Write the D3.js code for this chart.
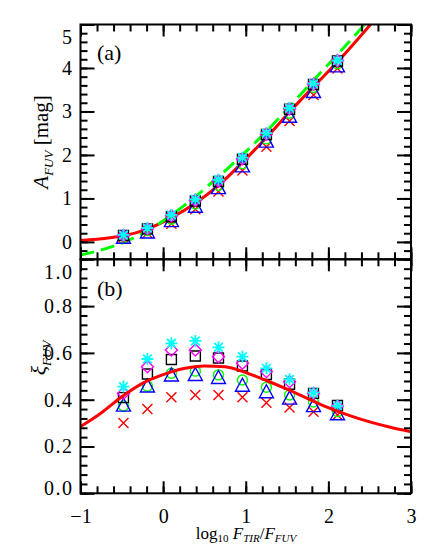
<!DOCTYPE html>
<html>
<head>
<meta charset="utf-8">
<script src="https://cdn.jsdelivr.net/npm/d3@7"></script>
<style>
body { margin: 0; background: #fff; }
text { font-family: "Liberation Serif", serif; }
</style>
</head>
<body>
<script>
// bin centres, log10 F_TIR/F_FUV
var binX = [-0.48, -0.19, 0.10, 0.39, 0.67, 0.96, 1.25, 1.53, 1.82, 2.11];

// panel (a): A_FUV for each model
var aCross    = [0.10, 0.20, 0.42, 0.75, 1.16, 1.64, 2.19, 2.78, 3.38, 3.99];
var aCircle   = [0.13, 0.26, 0.52, 0.87, 1.30, 1.80, 2.37, 2.96, 3.55, 4.10];
var aTriangle = [0.12, 0.24, 0.50, 0.83, 1.26, 1.76, 2.33, 2.90, 3.47, 4.06];
var aSquare   = [0.15, 0.30, 0.58, 0.94, 1.39, 1.90, 2.47, 3.05, 3.62, 4.16];
var aDiamond  = [0.15, 0.30, 0.60, 0.96, 1.40, 1.91, 2.48, 3.06, 3.63, 4.17];
var aStar     = [0.16, 0.32, 0.62, 0.98, 1.43, 1.94, 2.50, 3.08, 3.64, 4.17];

// panel (b): xi_FUV for each model
var xiCross    = [0.300, 0.360, 0.410, 0.420, 0.420, 0.410, 0.387, 0.367, 0.349, 0.335];
var xiCircle   = [0.373, 0.458, 0.513, 0.522, 0.506, 0.484, 0.453, 0.420, 0.390, 0.349];
var xiTriangle = [0.379, 0.461, 0.508, 0.510, 0.497, 0.464, 0.436, 0.409, 0.377, 0.342];
var xiSquare   = [0.409, 0.510, 0.572, 0.587, 0.578, 0.544, 0.508, 0.466, 0.427, 0.375];
var xiDiamond  = [0.427, 0.541, 0.612, 0.612, 0.584, 0.556, 0.520, 0.477, 0.427, 0.372];
var xiStar     = [0.456, 0.574, 0.641, 0.651, 0.624, 0.584, 0.534, 0.487, 0.430, 0.374];

// fitted relations
var fitAX = [-1, -0.75, -0.48, -0.2, 0.1, 0.39, 0.67, 0.96, 1.25, 1.53, 1.82, 2.12, 2.51, 2.6];
var fitA  = [0.03, 0.07, 0.14, 0.29, 0.56, 0.89, 1.30, 1.83, 2.40, 2.99, 3.57, 4.16, 5.0, 5.2];
var dashX = [-1, -0.76, -0.48, -0.19, 0.1, 0.39, 0.67, 0.96, 1.25, 1.53, 1.82, 2.12, 2.44, 2.55];
var dashA = [-0.30, -0.19, -0.01, 0.25, 0.62, 1.04, 1.50, 2.00, 2.54, 3.11, 3.72, 4.33, 5.0, 5.23];
var fitXiX = [-1, -0.75, -0.5, -0.25, 0, 0.25, 0.5, 0.75, 1, 1.25, 1.5, 1.75, 2, 2.25, 2.5, 2.75, 3];
var fitXi  = [0.285, 0.343, 0.413, 0.470, 0.507, 0.533, 0.544, 0.541, 0.516, 0.482, 0.445, 0.405, 0.366, 0.333, 0.305, 0.282, 0.263];

// tick labels
var xTicks = [-1, 0, 1, 2, 3];
var aTicks = [0, 1, 2, 3, 4, 5];
var xiTicks = [0.0, 0.2, 0.4, 0.6, 0.8, 1.0];

var left = 80.5, right = 411, topA = 24.5, mid = 259.3, bottom = 493.3;
var serif = "'Liberation Serif', 'Times New Roman', serif";

var x = d3.scaleLinear().domain([-1, 3]).range([left, right]);
var yA = d3.scaleLinear().domain([-0.4, 5]).range([mid, topA]);
var yB = d3.scaleLinear().domain([0, 1]).range([bottom, mid]);

var svg = d3.select("body").append("svg")
    .attr("width", 436)
    .attr("height", 545)
    .attr("font-family", serif);

svg.append("rect").attr("width", 436).attr("height", 545).attr("fill", "#fff");

var defs = svg.append("defs");
defs.append("clipPath").attr("id", "clipA").append("rect")
    .attr("x", left).attr("y", topA).attr("width", right - left).attr("height", mid - topA);
defs.append("clipPath").attr("id", "clipB").append("rect")
    .attr("x", left).attr("y", mid).attr("width", right - left).attr("height", bottom - mid);

function styleAxis(g) {
    g.attr("font-family", serif).attr("font-size", 20);
    g.select(".domain").remove();
    g.selectAll("line").attr("stroke", "#000").attr("stroke-width", 2);
    g.selectAll("text").attr("fill", "#000")
        .attr("font-family", serif)
        .attr("font-size", 20)
        .attr("letter-spacing", 1.5);
}

function drawAxes(y, yTicks, minorY, fmt, xLabels) {
    var minorX = d3.range(-5, 16).map(function (d) { return d / 5; });
    var y0 = y.range()[0], y1 = y.range()[1];

    svg.append("g").attr("transform", "translate(" + left + ",0)")
        .call(d3.axisLeft(y).tickValues(minorY).tickSize(-7).tickFormat(""))
        .call(styleAxis);
    svg.append("g").attr("transform", "translate(" + right + ",0)")
        .call(d3.axisRight(y).tickValues(minorY).tickSize(-7).tickFormat(""))
        .call(styleAxis);
    svg.append("g").attr("transform", "translate(" + right + ",0)")
        .call(d3.axisRight(y).tickValues(yTicks).tickSize(-14).tickFormat(""))
        .call(styleAxis);
    var ly = svg.append("g").attr("transform", "translate(" + left + ",0)")
        .call(d3.axisLeft(y).tickValues(yTicks).tickSize(-14).tickPadding(7).tickFormat(fmt))
        .call(styleAxis);
    // keep end labels inside the axis span
    ly.selectAll(".tick text").attr("dy", function (d) {
        if (Math.abs(y(d) - y1) < 1) return "0.95em";
        if (Math.abs(y(d) - y0) < 1) return "0.05em";
        return "0.32em";
    });

    svg.append("g").attr("transform", "translate(0," + y1 + ")")
        .call(d3.axisTop(x).tickValues(minorX).tickSize(-7).tickFormat(""))
        .call(styleAxis);
    svg.append("g").attr("transform", "translate(0," + y1 + ")")
        .call(d3.axisTop(x).tickValues(xTicks).tickSize(-12).tickFormat(""))
        .call(styleAxis);
    svg.append("g").attr("transform", "translate(0," + y0 + ")")
        .call(d3.axisBottom(x).tickValues(minorX).tickSize(-7).tickFormat(""))
        .call(styleAxis);
    var bx = svg.append("g").attr("transform", "translate(0," + y0 + ")")
        .call(d3.axisBottom(x).tickValues(xTicks).tickSize(-12).tickPadding(16)
            .tickFormat(xLabels ? function (d) { return d < 0 ? "\u2212" + (-d) : d; } : ""))
        .call(styleAxis);
    bx.selectAll(".tick text").attr("letter-spacing", 0);

    svg.append("rect")
        .attr("x", left).attr("y", y1)
        .attr("width", right - left).attr("height", y0 - y1)
        .attr("fill", "none").attr("stroke", "#000").attr("stroke-width", 2);
}

function symbol(type) {
    switch (type) {
        case "cross": return "M-5,-5L5,5M-5,5L5,-5";
        case "circle": return "M5,0A5,5 0 1,1 -5,0A5,5 0 1,1 5,0Z";
        case "triangle": return "M0,-6.5L7,6.5L-7,6.5Z";
        case "square": return "M-5,-5H5V5H-5Z";
        case "diamond": return "M0,-6L6,0L0,6L-6,0Z";
        case "star": return "M-6,0H6M0,-6V6M-4.3,-4.3L4.3,4.3M-4.3,4.3L4.3,-4.3";
    }
}

function drawPoints(g, y, vals, type, color) {
    g.append("g").selectAll("path")
        .data(binX.map(function (d, i) { return [d, vals[i]]; }))
        .enter().append("path")
        .attr("transform", function (d) { return "translate(" + x(d[0]) + "," + y(d[1]) + ")"; })
        .attr("d", symbol(type))
        .attr("fill", "none")
        .attr("stroke", color)
        .attr("stroke-width", type == "star" ? 1.8 : 1.4);
}

function drawCurve(g, y, xs, ys, color, dash) {
    var line = d3.line()
        .x(function (d) { return x(d[0]); })
        .y(function (d) { return y(d[1]); })
        .curve(d3.curveMonotoneX);
    g.append("path")
        .datum(xs.map(function (d, i) { return [d, ys[i]]; }))
        .attr("d", line)
        .attr("fill", "none")
        .attr("stroke", color)
        .attr("stroke-width", 3)
        .attr("stroke-dasharray", dash || null);
}

// panel (a)
var gA = svg.append("g").attr("clip-path", "url(#clipA)");
drawCurve(gA, yA, fitAX, fitA, "#ff0000");
drawCurve(gA, yA, dashX, dashA, "#00ff00", "14,7");
drawPoints(gA, yA, aCross, "cross", "#ff0000");
drawPoints(gA, yA, aCircle, "circle", "#00ff00");
drawPoints(gA, yA, aTriangle, "triangle", "#0000ff");
drawPoints(gA, yA, aSquare, "square", "#000000");
drawPoints(gA, yA, aDiamond, "diamond", "#ff00ff");
drawPoints(gA, yA, aStar, "star", "#00ffff");

// panel (b)
var gB = svg.append("g").attr("clip-path", "url(#clipB)");
drawPoints(gB, yB, xiCross, "cross", "#ff0000");
drawPoints(gB, yB, xiCircle, "circle", "#00ff00");
drawPoints(gB, yB, xiTriangle, "triangle", "#0000ff");
drawPoints(gB, yB, xiSquare, "square", "#000000");
drawPoints(gB, yB, xiDiamond, "diamond", "#ff00ff");
drawPoints(gB, yB, xiStar, "star", "#00ffff");
drawCurve(gB, yB, fitXiX, fitXi, "#ff0000");

drawAxes(yA, aTicks, d3.range(-2, 26).map(function (d) { return d / 5; }), d3.format("d"), false);
drawAxes(yB, xiTicks, d3.range(0, 26).map(function (d) { return d / 25; }), d3.format(".1f"), true);

// panel tags
svg.append("text").attr("x", 97).attr("y", 60)
    .attr("font-family", "'Liberation Sans', sans-serif").attr("font-size", 22).text("(a)");
svg.append("text").attr("x", 97).attr("y", 296)
    .attr("font-family", "'Liberation Sans', sans-serif").attr("font-size", 22).text("(b)");

// axis titles
var tA = svg.append("text")
    .attr("transform", "translate(48," + ((topA + mid) / 2) + ") rotate(-90)")
    .attr("text-anchor", "middle")
    .attr("font-size", 21);
tA.append("tspan").attr("font-style", "italic").text("A");
tA.append("tspan").attr("font-style", "italic").attr("font-size", 13).attr("dy", 5).text("FUV");
tA.append("tspan").attr("dy", -5).text(" [mag]");

var tB = svg.append("text")
    .attr("transform", "translate(46,358) rotate(-90)")
    .attr("text-anchor", "middle")
    .attr("font-size", 22);
tB.append("tspan").attr("font-style", "italic").text("\u03BE");
tB.append("tspan").attr("font-style", "italic").attr("font-size", 13).attr("dy", 5).text("FUV");

var tX = svg.append("text")
    .attr("x", 246).attr("y", 539)
    .attr("text-anchor", "middle")
    .attr("font-size", 17);
tX.append("tspan").text("log");
tX.append("tspan").attr("font-size", 11).attr("dy", 3).text("10");
tX.append("tspan").attr("font-style", "italic").attr("dy", -3).text(" F");
tX.append("tspan").attr("font-style", "italic").attr("font-size", 11).attr("dy", 3).text("TIR");
tX.append("tspan").attr("dy", -3).text("/");
tX.append("tspan").attr("font-style", "italic").text("F");
tX.append("tspan").attr("font-style", "italic").attr("font-size", 11).attr("dy", 3).text("FUV");
</script>
</body>
</html>
